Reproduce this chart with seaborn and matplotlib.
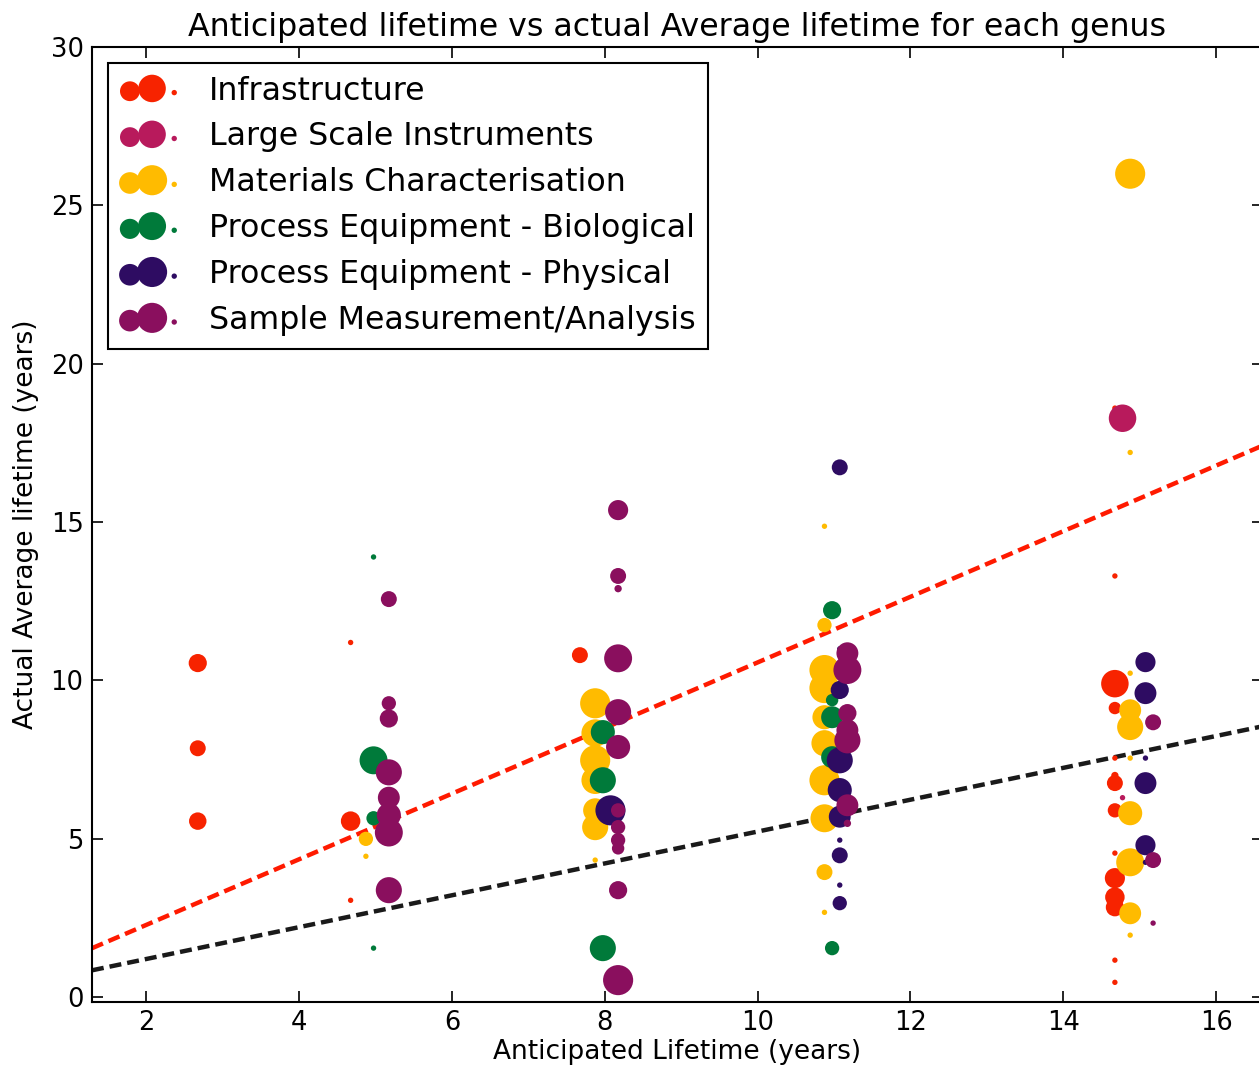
import numpy as np
import pandas as pd
import matplotlib
matplotlib.use("Agg")
import matplotlib.pyplot as plt
import seaborn as sns

# Genus names and colours (legend order = drawing order)
genera = ['Infrastructure', 'Large Scale Instruments', 'Materials Characterisation',
          'Process Equipment - Biological', 'Process Equipment - Physical',
          'Sample Measurement/Analysis']
colours = ['#F72300', '#B81A5C', '#FFBB00', '#007A3A', '#2E0C62', '#8A0F5E']

# anticipated lifetime (years), actual average lifetime (years), number of items
infra_ant = [3, 3, 3, 5, 5, 5, 8, 15, 15, 15, 15, 15, 15, 15, 15, 15, 15, 15, 15, 15, 15]
infra_act = [10.55, 7.86, 5.56, 11.2, 5.56, 3.06, 10.8, 18.6, 13.3, 9.9, 9.13, 7.55, 7.0,
             6.76, 5.9, 4.55, 3.76, 3.16, 2.84, 1.17, 0.47]
infra_n = [13, 10, 12, 1, 15, 1, 10, 1, 1, 30, 6, 1, 2, 10, 8, 1, 16, 15, 13, 1, 1]

lsi_ant = [15, 15]
lsi_act = [18.28, 6.3]
lsi_n = [30, 1]

mat_ant = [5, 5, 8, 8, 8, 8, 8, 8, 8, 11, 11, 11, 11, 11, 11, 11, 11, 11, 11,
           15, 15, 15, 15, 15, 15, 15, 15, 15, 15]
mat_act = [5.0, 4.45, 9.28, 8.34, 7.48, 6.85, 5.9, 5.37, 4.33, 14.87, 11.75, 10.33, 9.76,
           8.84, 8.02, 6.85, 5.65, 3.95, 2.68, 26.0, 17.2, 10.23, 9.06, 8.53, 7.55, 5.81,
           4.26, 2.65, 1.96]
mat_n = [8, 1, 36, 30, 36, 30, 23, 27, 1, 1, 8, 36, 36, 23, 27, 36, 31, 10, 1,
         36, 1, 1, 19, 27, 1, 23, 31, 19, 1]

bio_ant = [5, 5, 5, 5, 8, 8, 8, 11, 11, 11, 11, 11]
bio_act = [13.9, 7.48, 5.65, 1.55, 8.37, 6.85, 1.55, 12.22, 9.38, 8.84, 7.58, 1.55]
bio_n = [1, 31, 8, 1, 23, 27, 27, 13, 6, 19, 19, 8]

phys_ant = [8, 11, 11, 11, 11, 11, 11, 11, 11, 11, 11,
            15, 15, 15, 15, 15, 15]
phys_act = [5.9, 16.73, 11.0, 9.7, 7.48, 6.54, 5.7, 4.96, 4.48, 3.54, 2.97,
            10.58, 9.6, 7.55, 6.76, 4.8, 4.26]
phys_n = [36, 10, 1, 13, 27, 23, 19, 1, 10, 1, 8,
          16, 19, 1, 19, 16, 1]

samp_ant = [5, 5, 5, 5, 5, 5, 5, 5, 8, 8, 8, 8, 8, 8, 8, 8, 8, 8, 8, 8,
            11, 11, 11, 11, 11, 11, 11, 15, 15, 15]
samp_act = [12.57, 9.28, 8.8, 7.1, 6.3, 5.75, 5.2, 3.38, 15.38, 13.3, 12.9, 10.7, 9.0,
            7.9, 5.9, 5.37, 4.96, 4.7, 3.38, 0.54, 10.86, 10.33, 8.97, 8.43, 8.11,
            6.06, 5.49, 8.68, 4.33, 2.34]
samp_n = [10, 8, 13, 27, 19, 23, 31, 27, 16, 10, 2, 31, 27, 23, 8, 8, 8, 6, 13, 36,
          19, 31, 13, 19, 27, 19, 2, 10, 10, 1]

ant_lists = [infra_ant, lsi_ant, mat_ant, bio_ant, phys_ant, samp_ant]
act_lists = [infra_act, lsi_act, mat_act, bio_act, phys_act, samp_act]
n_lists = [infra_n, lsi_n, mat_n, bio_n, phys_n, samp_n]

# Trend lines: actual = slope * anticipated + intercept
red_slope, red_icpt = 1.036, 0.21
black_slope, black_icpt = 0.503, 0.20

x_lo, x_hi = 1.29, 16.61

sns.set_style("ticks")
plt.rcParams['font.family'] = ['DejaVu Sans']
plt.rcParams['text.color'] = 'black'
plt.rcParams['axes.labelcolor'] = 'black'
plt.rcParams['xtick.color'] = 'black'
plt.rcParams['ytick.color'] = 'black'

fig = plt.figure(figsize=(12.59, 10.69), dpi=100)
ax = fig.add_axes([0.073, 0.0627, 0.93, 0.8933])

# dashed trend lines (behind the points)
line_x = np.array([x_lo, x_hi])
sns.lineplot(x=line_x, y=red_slope * line_x + red_icpt, ax=ax, color='#FF1A00',
             linewidth=3.2, zorder=1)
sns.lineplot(x=line_x, y=black_slope * line_x + black_icpt, ax=ax, color='#1A1A1A',
             linewidth=3.2, zorder=1)
for ln in ax.lines:
    ln.set_dashes((2.7, 1.35))

handles = []
for i, (name, col) in enumerate(zip(genera, colours)):
    df = pd.DataFrame({'ant': ant_lists[i], 'act': act_lists[i], 'n': n_lists[i]})
    # dodge each genus sideways around its anticipated lifetime
    df['xpos'] = df['ant'] + 0.1 * (i - 3) - 0.025
    sns.scatterplot(data=df, x='xpos', y='act', size='n', sizes=(15, 470),
                    size_norm=(1, 36), color=col, linewidth=0, alpha=1,
                    legend=False, ax=ax, zorder=2 + i)
    coll = ax.collections[-1]
    coll.set_label(name)
    handles.append(coll)

ax.set_xlim(x_lo, x_hi)
ax.set_ylim(-0.15, 30)
ax.set_xticks(np.arange(2, 17, 2))
ax.set_yticks(np.arange(0, 31, 5))
ax.tick_params(direction='in', length=8, width=1.2, top=True, right=True,
               labelsize=18.5, pad=6, colors='black')
for sp in ax.spines.values():
    sp.set_linewidth(1.5)
    sp.set_color('black')

ax.set_xlabel('Anticipated Lifetime (years)', fontsize=19, labelpad=2, color='black')
ax.set_ylabel('Actual Average lifetime (years)', fontsize=19, labelpad=8, color='black')
ax.set_title('Anticipated lifetime vs actual Average lifetime for each genus',
             fontsize=22.8, pad=8, color='black')

leg = ax.legend(handles=handles, labels=genera, loc='upper left', scatterpoints=3,
                fontsize=22.8, frameon=True, fancybox=False, framealpha=1,
                edgecolor='black', borderaxespad=0.5, handlelength=2.0,
                handletextpad=0.8, labelspacing=0.47, borderpad=0.4)
leg.get_frame().set_linewidth(1.5)
for t in leg.get_texts():
    t.set_color('black')

fig.savefig('out.png', dpi=100)
